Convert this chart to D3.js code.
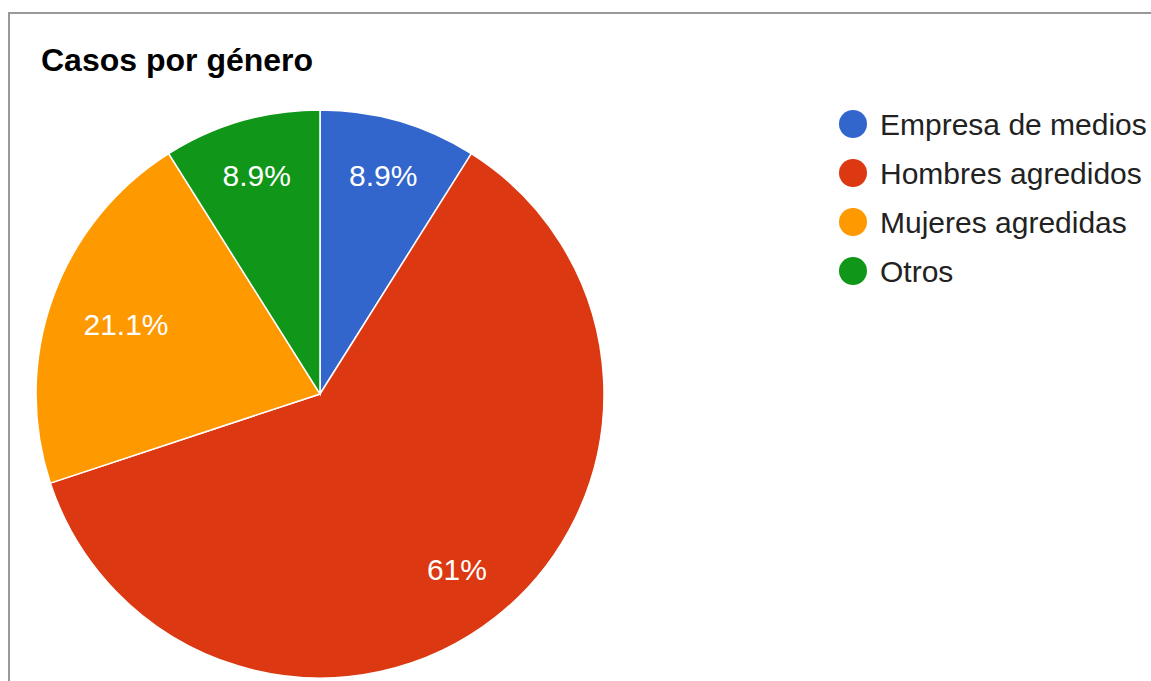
<!DOCTYPE html>
<html>
<head>
<meta charset="utf-8">
<script src="https://cdn.jsdelivr.net/npm/d3@7"></script>
<style>
  html, body { margin: 0; padding: 0; background: #fff; }
  svg { display: block; font-family: "Liberation Sans", Arial, sans-serif; }
</style>
</head>
<body>
<div id="chart"></div>
<script>
const categories = ["Empresa de medios", "Hombres agredidos", "Mujeres agredidas", "Otros"];
const counts = [11, 75, 26, 11];
const colors = ["#3366cc", "#dc3912", "#ff9900", "#109618"];

const W = 1151, H = 681;
const cx = 320, cy = 394, radius = 284;

const svg = d3.select("#chart").append("svg")
  .attr("width", W)
  .attr("height", H);

// frame
svg.append("rect")
  .attr("x", 9).attr("y", 13)
  .attr("width", W + 20).attr("height", H + 20)
  .attr("fill", "none")
  .attr("stroke", "#999")
  .attr("stroke-width", 2);

svg.append("text")
  .attr("x", 41).attr("y", 71)
  .attr("font-size", 32)
  .attr("font-weight", "bold")
  .attr("fill", "#000")
  .text("Casos por género");

const data = categories.map((c, i) => ({ name: c, value: counts[i], color: colors[i] }));
const total = d3.sum(counts);
const fmt = d3.format(".1~f");

const pie = d3.pie().sort(null).value(d => d.value);
const arc = d3.arc().innerRadius(0).outerRadius(radius);

const g = svg.append("g").attr("transform", `translate(${cx},${cy})`);
const arcs = pie(data);

g.selectAll("path.slice")
  .data(arcs)
  .join("path")
  .attr("class", "slice")
  .attr("d", arc)
  .attr("fill", d => d.data.color)
  .attr("stroke", "#fff")
  .attr("stroke-width", 1.5);

// labels: push out along the mid-angle until the text box's far corner
// touches ~0.88 of the radius
const labels = g.selectAll("text.pct")
  .data(arcs)
  .join("text")
  .attr("class", "pct")
  .attr("text-anchor", "middle")
  .attr("dy", "0.36em")
  .attr("font-size", 30)
  .attr("fill", "#fff")
  .text(d => fmt(d.data.value / total * 100) + "%");

labels.each(function (d) {
  const w = this.getComputedTextLength() / 2, h = 11;
  const a = (d.startAngle + d.endAngle) / 2;
  const ux = Math.sin(a), uy = -Math.cos(a);
  const limit = radius * 0.88;
  let r = limit;
  for (let i = 0; i < 60; i++) {
    const x = ux * r, y = uy * r;
    const fx = x + Math.sign(ux) * w, fy = y + Math.sign(uy) * h;
    const dist = Math.hypot(fx, fy);
    r += (limit - dist) * 0.5;
  }
  d3.select(this).attr("transform", `translate(${ux * r},${uy * r})`);
});

const legend = svg.append("g").attr("transform", "translate(853,124)");
const items = legend.selectAll("g")
  .data(data)
  .join("g")
  .attr("transform", (d, i) => `translate(0,${i * 49})`);

items.append("circle")
  .attr("r", 14)
  .attr("fill", d => d.color);

items.append("text")
  .attr("x", 27)
  .attr("dy", "0.36em")
  .attr("font-size", 30)
  .attr("fill", "#222")
  .text(d => d.name);
</script>
</body>
</html>
